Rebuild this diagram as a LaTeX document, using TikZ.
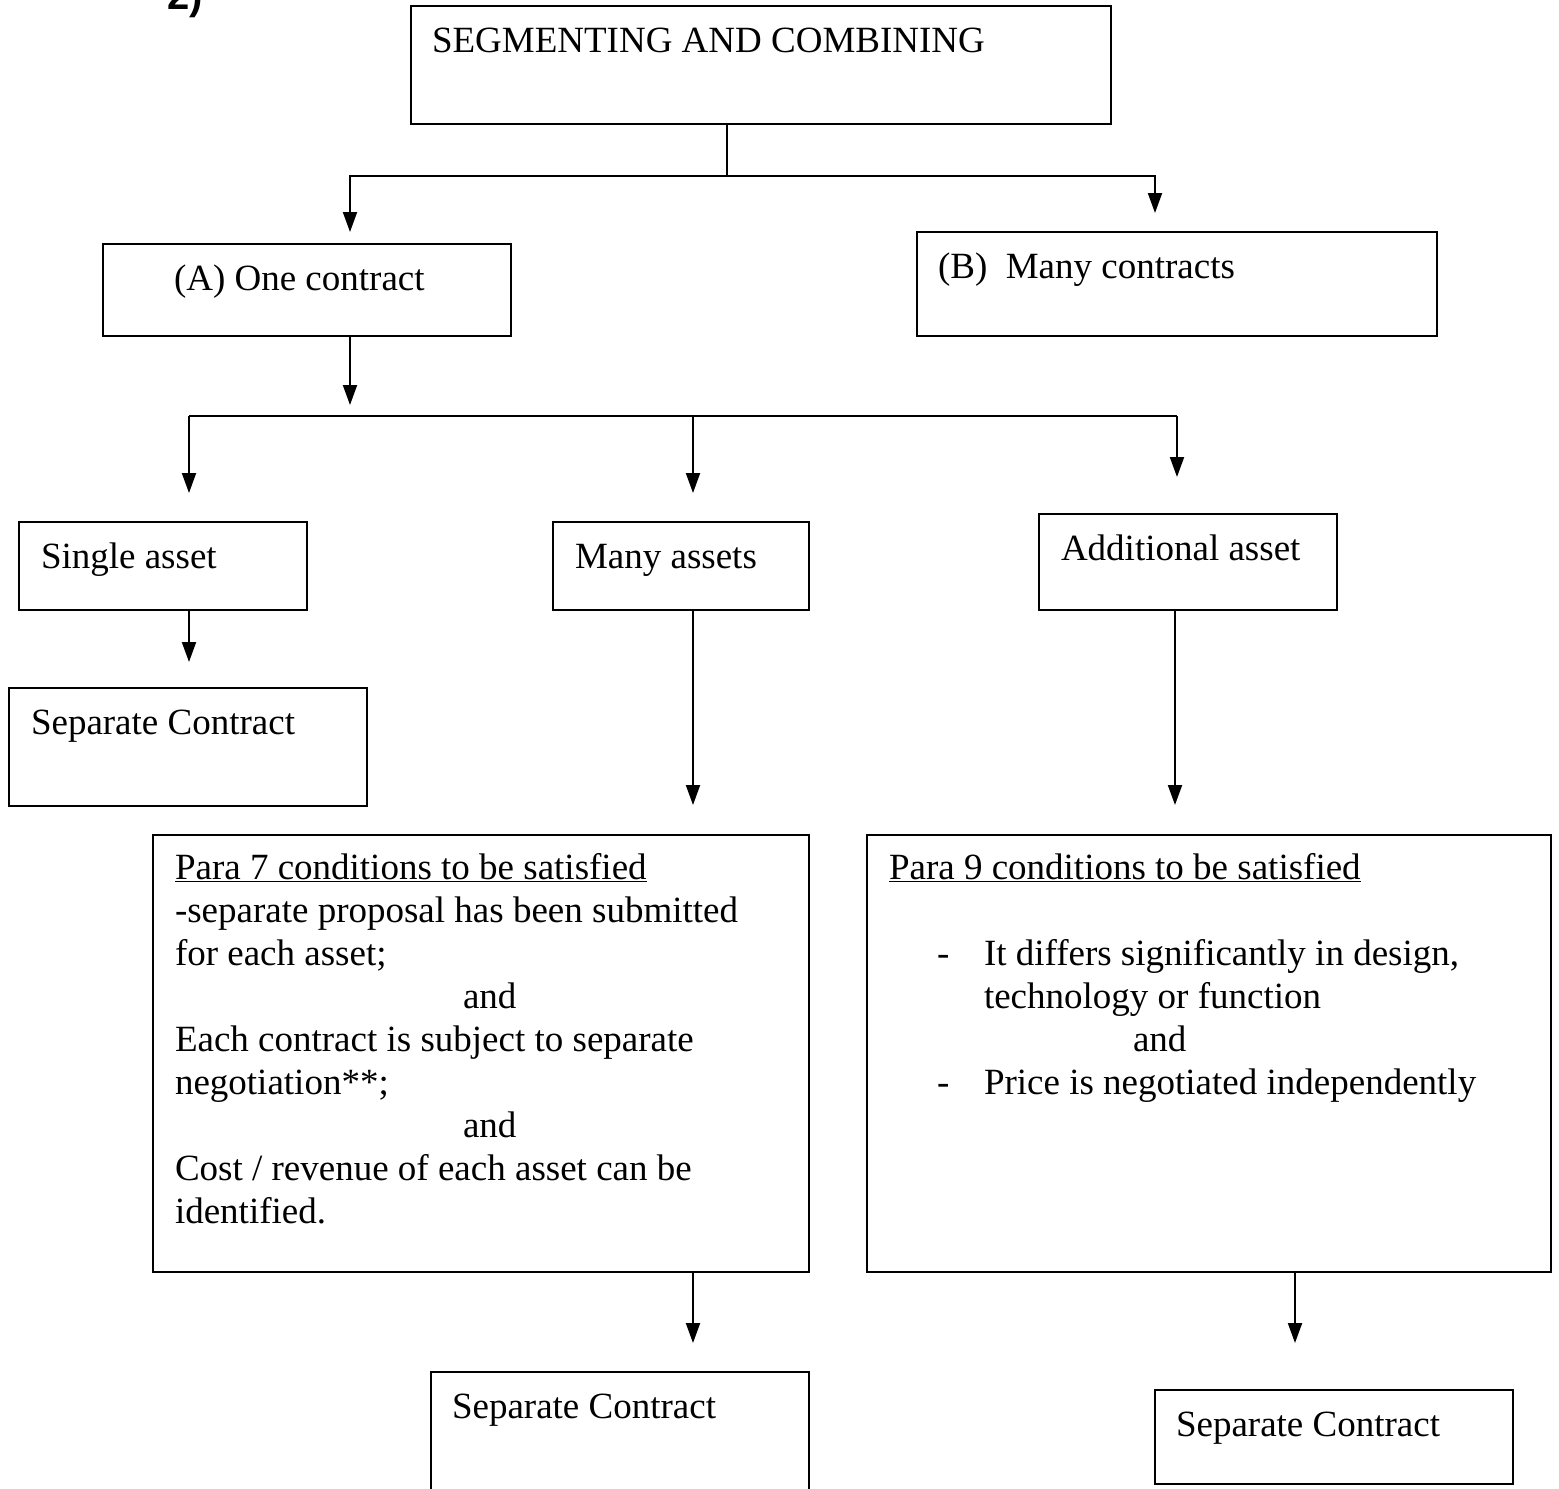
\documentclass[tikz,border=0pt]{standalone}
\usepackage{fontspec}
\setmainfont{Liberation Serif}
\newfontfamily\labelsans{Liberation Sans}
\usetikzlibrary{arrows.meta}
\begin{document}
\begin{tikzpicture}[x=1pt,y=-1pt,line width=2pt,
  box/.style={draw,line width=2pt,anchor=north west,inner sep=0pt,outer sep=0pt},
  txt/.style={anchor=base west,inner sep=0pt,font=\fontsize{37}{43}\selectfont},
  arr/.style={-{Triangle[length=20pt,width=14pt]}}]
\clip (0,0) rectangle (1559,1489);
\fill[white] (0,0) rectangle (1559,1489);

% section number at the top edge
\node[anchor=base west,inner sep=0pt,font=\labelsans\bfseries\fontsize{40}{40}\selectfont] (num) at (166,9) {2)};

% boxes
\node[box,minimum width=700pt,minimum height=118pt] (top)   at (411,6)    {};
\node[box,minimum width=408pt,minimum height=92pt]  (boxA)  at (103,244)  {};
\node[box,minimum width=520pt,minimum height=104pt] (boxB)  at (917,232)  {};
\node[box,minimum width=288pt,minimum height=88pt]  (single) at (19,522)  {};
\node[box,minimum width=256pt,minimum height=88pt]  (many)  at (553,522)  {};
\node[box,minimum width=298pt,minimum height=96pt]  (addl)  at (1039,514) {};
\node[box,minimum width=358pt,minimum height=118pt] (sepA)  at (9,688)    {};
\node[box,minimum width=656pt,minimum height=437pt] (para7) at (153,835)  {};
\node[box,minimum width=684pt,minimum height=437pt] (para9) at (867,835)  {};
\node[box,minimum width=378pt,minimum height=150pt] (sepB)  at (431,1372) {};
\node[box,minimum width=358pt,minimum height=94pt]  (sepC)  at (1155,1390) {};

% box texts
\node[txt] (tTop)  at (431,52)   {SEGMENTING AND COMBINING};
\node[txt] (tA)    at (173,290)  {(A) One contract};
\node[txt] (tB)    at (937,278)  {(B)\ \ Many contracts};
\node[txt] (tSing) at (40,568)   {Single asset};
\node[txt] (tMany) at (574,568)  {Many assets};
\node[txt] (tAddl) at (1060,560) {Additional asset};
\node[txt] (tSepA) at (30,734)   {Separate Contract};
\node[txt] (tSepB) at (451,1418) {Separate Contract};
\node[txt] (tSepC) at (1175,1436) {Separate Contract};

% para 7 conditions
\node[txt] (p7a) at (174,879)  {\underline{Para 7 conditions to be satisfied}};
\node[txt] (p7b) at (174,922)  {-separate proposal has been submitted};
\node[txt] (p7c) at (174,965)  {for each asset;};
\node[txt] (p7d) at (462,1008) {and};
\node[txt] (p7e) at (174,1051) {Each contract is subject to separate};
\node[txt] (p7f) at (174,1094) {negotiation**;};
\node[txt] (p7g) at (462,1137) {and};
\node[txt] (p7h) at (174,1180) {Cost / revenue of each asset can be};
\node[txt] (p7i) at (174,1223) {identified.};

% para 9 conditions
\node[txt] (p9a) at (888,879)   {\underline{Para 9 conditions to be satisfied}};
\node[txt] (p9d1) at (936,965)  {-};
\node[txt] (p9b) at (983,965)   {It differs significantly in design,};
\node[txt] (p9c) at (983,1008)  {technology or function};
\node[txt] (p9e) at (1132,1051) {and};
\node[txt] (p9d2) at (936,1094) {-};
\node[txt] (p9f) at (983,1094)  {Price is negotiated independently};

% connector points
\coordinate (j1)  at (727,176);
\coordinate (aA)  at (350,232);
\coordinate (aB)  at (1155,213);
\coordinate (aA2) at (350,405);
\coordinate (hL)  at (189,416);
\coordinate (hR)  at (1177,416);
\coordinate (aS)  at (189,493);
\coordinate (aM)  at (693,493);
\coordinate (aD)  at (1177,477);
\coordinate (aS2) at (189,662);
\coordinate (aM2) at (693,805);
\coordinate (aD2) at (1175,805);
\coordinate (a7)  at (693,1343);
\coordinate (a9)  at (1295,1343);

% connectors
\draw (top.south -| j1) -- (j1);
\draw[arr] (j1) -| (aA);
\draw[arr] (j1) -| (aB);
\draw[arr] (boxA.south -| aA2) -- (aA2);
\draw (hL) -- (hR);
\draw[arr] (hL) -- (aS);
\draw[arr] (aM |- hL) -- (aM);
\draw[arr] (hR) -- (aD);
\draw[arr] (single.south -| aS2) -- (aS2);
\draw[arr] (many.south -| aM2) -- (aM2);
\draw[arr] (addl.south -| aD2) -- (aD2);
\draw[arr] (para7.south -| a7) -- (a7);
\draw[arr] (para9.south -| a9) -- (a9);
\end{tikzpicture}
\end{document}
